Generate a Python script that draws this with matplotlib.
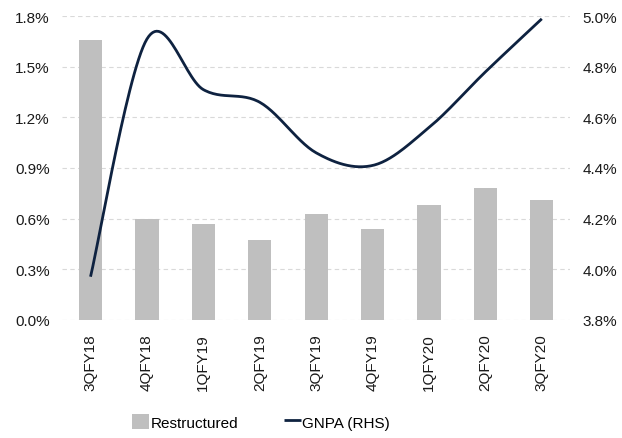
import numpy as np
import matplotlib
matplotlib.use("Agg")
import matplotlib.pyplot as plt
from matplotlib.ticker import FuncFormatter

plt.rcParams['font.family'] = ['Liberation Sans Narrow', 'Liberation Sans', 'DejaVu Sans']

# quarterly data
quarters = ['3QFY18', '4QFY18', '1QFY19', '2QFY19', '3QFY19', '4QFY19', '1QFY20', '2QFY20', '3QFY20']
restructured = [1.66, 0.60, 0.57, 0.47, 0.63, 0.54, 0.68, 0.78, 0.71]
gnpa = [3.97, 4.91, 4.71, 4.66, 4.46, 4.41, 4.56, 4.78, 4.99]


def smooth_curve(x, y, n=30):
    # Bezier smoothing between points (Catmull-Rom style control points)
    x = np.asarray(x, float)
    y = np.asarray(y, float)
    px = np.concatenate([[x[0]], x, [x[-1]]])
    py = np.concatenate([[y[0]], y, [y[-1]]])
    xs, ys = [], []
    t = np.linspace(0, 1, n)
    for i in range(len(x) - 1):
        p0 = np.array([px[i + 1], py[i + 1]])
        p3 = np.array([px[i + 2], py[i + 2]])
        p1 = p0 + (np.array([px[i + 2], py[i + 2]]) - np.array([px[i], py[i]])) / 6
        p2 = p3 - (np.array([px[i + 3], py[i + 3]]) - np.array([px[i + 1], py[i + 1]])) / 6
        b = ((1 - t) ** 3)[:, None] * p0 + (3 * (1 - t) ** 2 * t)[:, None] * p1 \
            + (3 * (1 - t) * t ** 2)[:, None] * p2 + (t ** 3)[:, None] * p3
        xs.append(b[:, 0])
        ys.append(b[:, 1])
    return np.concatenate(xs), np.concatenate(ys)


fig = plt.figure(figsize=(6.22, 4.39), dpi=100)
ax = fig.add_axes([0.1002, 0.2695, 0.8162, 0.6911])
x = np.arange(len(quarters))

ax.bar(x, restructured, width=0.41, color='#bfbfbf', zorder=2, label='Restructured')
ax.set_ylim(0, 1.8)
ax.set_yticks(np.arange(0, 1.81, 0.3))
ax.yaxis.set_major_formatter(FuncFormatter(lambda v, p: f'{v:.1f}%'))
ax.set_xlim(-0.5, len(quarters) - 0.5)
ax.set_xticks(x)
ax.set_xticklabels(quarters, rotation=90)
ax.grid(axis='y', color='#d9d9d9', linestyle=(0, (4, 3)), linewidth=0.8, zorder=0)
ax.set_axisbelow(True)

ax2 = ax.twinx()
sx, sy = smooth_curve(x, gnpa)
ax2.plot(sx, sy, color='#0e2240', linewidth=2.0, solid_capstyle='butt', label='GNPA (RHS)', zorder=3)
ax2.set_ylim(3.8, 5.0)
ax2.set_yticks(np.arange(3.8, 5.01, 0.2))
ax2.yaxis.set_major_formatter(FuncFormatter(lambda v, p: f'{v:.1f}%'))

for a in (ax, ax2):
    for s in a.spines.values():
        s.set_visible(False)
    a.tick_params(length=0, labelsize=11, colors='#1a1a1a')
ax.tick_params(axis='y', pad=9)
ax.tick_params(axis='x', pad=10)
ax2.tick_params(axis='y', pad=9)

h1, l1 = ax.get_legend_handles_labels()
h2, l2 = ax2.get_legend_handles_labels()
fig.legend(h1 + h2, l1 + l2, loc='lower center', bbox_to_anchor=(0.42, -0.012), ncol=2,
           frameon=False, fontsize=11, handlelength=1.1, handleheight=1.1,
           handletextpad=0.1, columnspacing=3.0)

fig.savefig('out.png', dpi=100)
